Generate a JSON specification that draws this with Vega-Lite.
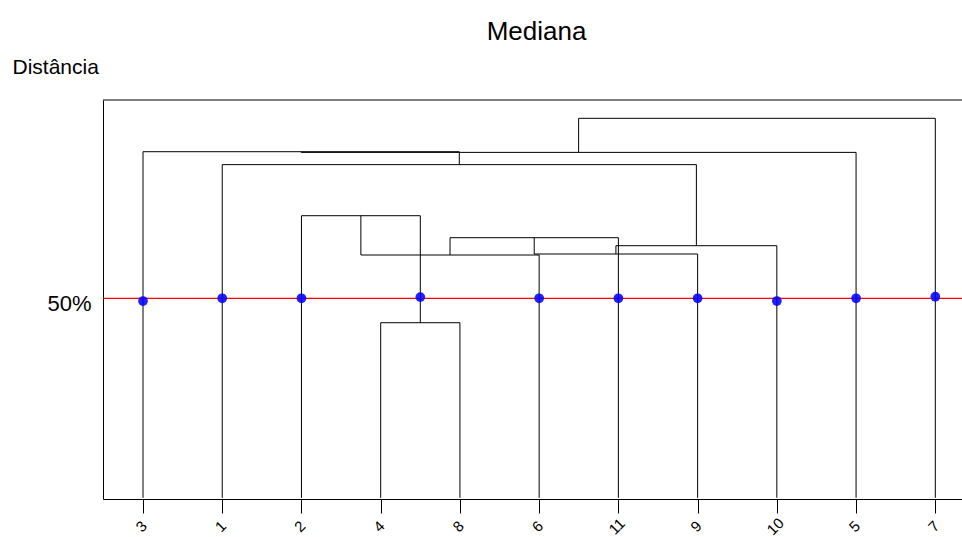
{
  "$schema": "https://vega.github.io/schema/vega-lite/v6.json",
  "width": 859,
  "height": 399,
  "autosize": {"type": "none"},
  "padding": {"left": 103, "top": 100, "right": 0, "bottom": 38},
  "background": "white",
  "title": {"text": "Mediana", "fontSize": 26, "fontWeight": "normal", "font": "Liberation Sans", "color": "black", "anchor": "middle", "dx": 4, "offset": 11},
  "config": {"view": {"stroke": null}, "font": "Liberation Sans"},
  "datasets": {
    "segments": [
      {"x": 4, "y": 0, "x2": 4, "y2": 43.88},
      {"x": 5, "y": 0, "x2": 5, "y2": 43.88},
      {"x": 4, "y": 43.88, "x2": 5, "y2": 43.88},
      {"x": 3, "y": 0, "x2": 3, "y2": 70.7},
      {"x": 4.5, "y": 43.88, "x2": 4.5, "y2": 70.7},
      {"x": 3, "y": 70.7, "x2": 4.5, "y2": 70.7},
      {"x": 3.75, "y": 70.7, "x2": 3.75, "y2": 60.85},
      {"x": 6, "y": 0, "x2": 6, "y2": 60.85},
      {"x": 3.75, "y": 60.85, "x2": 6, "y2": 60.85},
      {"x": 4.875, "y": 60.85, "x2": 4.875, "y2": 65.19},
      {"x": 7, "y": 0, "x2": 7, "y2": 65.19},
      {"x": 4.875, "y": 65.19, "x2": 7, "y2": 65.19},
      {"x": 5.9375, "y": 65.19, "x2": 5.9375, "y2": 61.1},
      {"x": 8, "y": 0, "x2": 8, "y2": 61.1},
      {"x": 5.9375, "y": 61.1, "x2": 8, "y2": 61.1},
      {"x": 6.96875, "y": 61.1, "x2": 6.96875, "y2": 63.18},
      {"x": 9, "y": 0, "x2": 9, "y2": 63.18},
      {"x": 6.96875, "y": 63.18, "x2": 9, "y2": 63.18},
      {"x": 2, "y": 0, "x2": 2, "y2": 83.5},
      {"x": 7.984375, "y": 63.18, "x2": 7.984375, "y2": 83.5},
      {"x": 2, "y": 83.5, "x2": 7.984375, "y2": 83.5},
      {"x": 1, "y": 0, "x2": 1, "y2": 86.74},
      {"x": 4.9921875, "y": 83.5, "x2": 4.9921875, "y2": 86.74},
      {"x": 1, "y": 86.74, "x2": 4.9921875, "y2": 86.74},
      {"x": 2.99609375, "y": 86.74, "x2": 2.99609375, "y2": 86.57},
      {"x": 10, "y": 0, "x2": 10, "y2": 86.57},
      {"x": 2.99609375, "y": 86.57, "x2": 10, "y2": 86.57},
      {"x": 6.498046875, "y": 86.57, "x2": 6.498046875, "y2": 95.11},
      {"x": 11, "y": 0, "x2": 11, "y2": 95.11},
      {"x": 6.498046875, "y": 95.11, "x2": 11, "y2": 95.11}
    ],
    "cut": [{"y": 50}],
    "points": [
      {"x": 1, "y": 49.32},
      {"x": 2, "y": 50},
      {"x": 3, "y": 50},
      {"x": 4.5, "y": 50.3},
      {"x": 6, "y": 50},
      {"x": 7, "y": 50},
      {"x": 8, "y": 50},
      {"x": 9, "y": 49.32},
      {"x": 10, "y": 50},
      {"x": 11, "y": 50.4}
    ]
  },
  "layer": [
    {
      "data": {"name": "segments"},
      "mark": {"type": "rule", "color": "black", "strokeWidth": 1},
      "encoding": {
        "x": {
          "field": "x", "type": "quantitative",
          "scale": {"domain": [0.495, 11.337], "nice": false, "zero": false},
          "axis": {
            "title": null, "grid": false, "values": [1, 2, 3, 4, 5, 6, 7, 8, 9, 10, 11],
            "labelExpr": "['3','1','2','4','8','6','11','9','10','5','7'][datum.value - 1]",
            "domainColor": "black", "domainWidth": 1, "tickColor": "black", "tickSize": 14, "tickWidth": 1,
            "labelAngle": -45, "labelAlign": "center", "labelBaseline": "middle", "labelPadding": 13,
            "labelFontSize": 15, "labelColor": "black", "labelFont": "Liberation Sans", "labelOffset": -2,
            "labelFlush": false, "labelOverlap": false, "labelBound": false
          }
        },
        "x2": {"field": "x2"},
        "y": {
          "field": "y", "type": "quantitative",
          "scale": {"domain": [-0.3, 99.7], "nice": false, "zero": false},
          "axis": {
            "title": "Distância", "titleAngle": 0, "titleX": -91, "titleY": -27, "titleAlign": "left",
            "titleBaseline": "alphabetic", "titleFontSize": 21, "titleFontWeight": "normal", "titleColor": "black",
            "titleFont": "Liberation Sans",
            "values": [50], "labelExpr": "'50%'", "ticks": false, "grid": false,
            "domainColor": "black", "domainWidth": 1, "labelFontSize": 22, "labelColor": "black",
            "labelFont": "Liberation Sans", "labelPadding": 12, "labelBaseline": "middle", "labelOffset": 5
          }
        },
        "y2": {"field": "y2"}
      }
    },
    {
      "data": {"name": "cut"},
      "mark": {"type": "rule", "color": "#ff0000", "strokeWidth": 1.3},
      "encoding": {"y": {"field": "y", "type": "quantitative"}}
    },
    {
      "data": {"values": [{}]},
      "mark": {"type": "rule", "color": "black", "strokeWidth": 1},
      "encoding": {
        "x": {"datum": 0.495, "type": "quantitative"},
        "x2": {"datum": 11.337},
        "y": {"datum": 99.7, "type": "quantitative"}
      }
    },
    {
      "data": {"name": "points"},
      "mark": {"type": "circle", "size": 95, "color": "#0000ff", "opacity": 0.88},
      "encoding": {
        "x": {"field": "x", "type": "quantitative"},
        "y": {"field": "y", "type": "quantitative"}
      }
    }
  ]
}
